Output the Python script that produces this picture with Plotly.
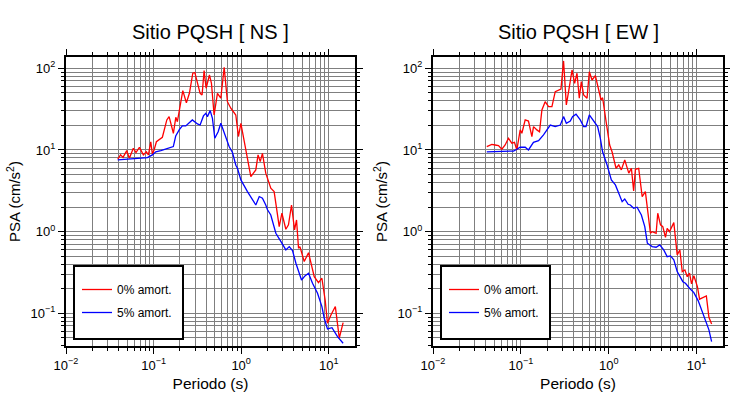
import plotly.graph_objects as go

# ---- data ----
ns_T0 = [0.039, 0.042, 0.0448, 0.0494, 0.0529, 0.0587, 0.063, 0.0689, 0.0764, 0.0827,
         0.0873, 0.0929, 0.0969, 0.1014, 0.1077, 0.1156, 0.126, 0.1416, 0.1504, 0.1683,
         0.1794, 0.187, 0.199, 0.2157, 0.237, 0.2565, 0.2805, 0.296, 0.34, 0.358,
         0.3776, 0.398, 0.4345, 0.458, 0.491, 0.536, 0.586, 0.64, 0.697, 0.762,
         0.869, 0.931, 0.993, 1.082, 1.18, 1.29, 1.47, 1.56, 1.65, 1.75,
         1.91, 2.18, 2.38, 2.72, 2.92, 3.24, 3.47, 3.76, 4.07, 4.29,
         4.52, 4.69, 5.25, 5.88, 6.83, 7.64, 8.36, 9.12, 9.68, 10.6,
         11.9, 13.2, 14.6]
ns_A0 = [7.7, 8.7, 8.1, 9.8, 7.9, 10.5, 9.3, 10.8, 8.7, 9.5,
         8.7, 12.6, 8.9, 10.0, 12.6, 13.5, 14.3, 23.3, 25.6, 16.0,
         25.1, 22.2, 32.4, 53.2, 37.9, 49.4, 86.9, 88.4, 49.4, 47.1,
         93.5, 56.9, 82.8, 65.5, 26.8, 49.4, 43.0, 103.0, 39.0, 32.4,
         26.8, 14.6, 21.2, 12.6, 8.3, 4.7, 5.7, 8.7, 7.2, 9.1,
         5.2, 3.4, 3.09, 1.15, 1.68, 1.07, 1.21, 2.12, 1.05, 1.39,
         0.627, 0.655, 0.43, 0.553, 0.281, 0.238, 0.269, 0.143, 0.0757, 0.0955,
         0.121, 0.0496, 0.0769]

ns_T5 = [0.039, 0.0598, 0.085, 0.0969, 0.106, 0.121, 0.144, 0.168, 0.179, 0.196,
         0.213, 0.233, 0.277, 0.317, 0.34, 0.371, 0.395, 0.412, 0.443, 0.47,
         0.5, 0.546, 0.586, 0.668, 0.729, 0.796, 0.87, 0.908, 0.993, 1.18,
         1.47, 1.61, 1.75, 1.91, 2.0, 2.18, 2.49, 2.85, 3.24, 3.54,
         3.86, 4.22, 4.89, 5.35, 5.88, 6.53, 7.45, 8.36, 8.89, 9.68,
         10.9, 12.6, 14.6]
ns_A5 = [7.55, 7.76, 8.05, 8.7, 9.5, 9.8, 10.5, 11.0, 14.8, 17.6,
         19.7, 19.7, 23.3, 20.8, 20.2, 26.1, 28.1, 25.6, 30.3, 24.4,
         13.9, 16.7, 21.2, 14.3, 11.0, 9.3, 6.5, 5.97, 4.3, 3.09,
         2.12, 2.69, 2.57, 2.12, 1.85, 1.6, 0.955, 0.755, 0.597, 0.655,
         0.585, 0.41, 0.256, 0.287, 0.31, 0.233, 0.176, 0.121, 0.087, 0.0644,
         0.0668, 0.0519, 0.043]

ew_T0 = [0.0409, 0.0467, 0.0509, 0.0556, 0.0607, 0.0662, 0.0722, 0.0789, 0.0845, 0.09,
         0.0982, 0.1026, 0.112, 0.122, 0.1334, 0.1393, 0.152, 0.163, 0.1734, 0.189,
         0.2064, 0.2256, 0.246, 0.2685, 0.2858, 0.306, 0.329, 0.349, 0.382, 0.409,
         0.435, 0.462, 0.487, 0.518, 0.566, 0.601, 0.645, 0.704, 0.767, 0.817,
         0.851, 0.897, 0.957, 1.024, 1.09, 1.21, 1.3, 1.39, 1.52, 1.69,
         1.81, 1.92, 2.01, 2.19, 2.4, 2.61, 2.98, 3.12, 3.46, 3.61,
         3.88, 4.12, 4.42, 4.62, 4.91, 5.5, 6.01, 6.44, 6.86, 7.35,
         7.82, 8.3, 8.75, 9.3, 10.2, 10.8, 12.9, 13.8, 14.8]
ew_A0 = [11.0, 11.7, 11.5, 11.3, 10.2, 11.5, 13.9, 12.1, 12.4, 10.0,
         17.6, 16.0, 23.3, 22.6, 14.6, 19.3, 17.6, 16.7, 30.9, 39.0,
         33.9, 33.9, 51.8, 54.2, 55.8, 123.0, 35.6, 51.8, 95.3, 65.5,
         86.9, 43.0, 68.5, 47.1, 43.0, 90.8, 71.9, 81.2, 56.9, 40.9,
         43.6, 28.1, 18.5, 11.5, 9.5, 5.97, 6.55, 5.7, 7.55, 5.2,
         5.97, 3.15, 5.8, 5.97, 2.68, 3.09, 0.955, 1.0, 0.955, 1.68,
         1.21, 1.15, 0.853, 1.1, 1.0, 1.29, 0.519, 0.597, 0.324, 0.34,
         0.281, 0.31, 0.229, 0.289, 0.212, 0.149, 0.163, 0.0895, 0.0742]

ew_T5 = [0.0409, 0.058, 0.0824, 0.09, 0.098, 0.112, 0.122, 0.139, 0.159, 0.181,
         0.216, 0.246, 0.281, 0.306, 0.329, 0.365, 0.387, 0.424, 0.474, 0.518,
         0.551, 0.601, 0.673, 0.747, 0.802, 0.851, 0.957, 1.07, 1.19, 1.3,
         1.42, 1.52, 1.66, 1.76, 1.92, 2.1, 2.35, 2.57, 2.75, 3.12,
         3.46, 3.8, 4.22, 4.62, 5.04, 5.5, 6.01, 6.97, 7.46, 8.3,
         9.3, 10.4, 11.4, 12.6, 13.8, 14.8]
ew_A5 = [9.5, 9.7, 9.7, 10.2, 10.8, 10.8, 10.0, 12.4, 13.0, 15.3,
         20.2, 19.3, 20.2, 25.6, 21.2, 22.6, 25.6, 27.4, 23.3, 19.3,
         19.3, 26.8, 22.2, 19.3, 13.9, 9.5, 6.55, 4.3, 3.73, 2.95,
         2.33, 2.51, 2.16, 2.12, 1.93, 1.99, 1.6, 1.15, 0.721, 0.655,
         0.644, 0.687, 0.597, 0.494, 0.505, 0.451, 0.324, 0.244, 0.233, 0.203,
         0.179, 0.143, 0.11, 0.0848, 0.0627, 0.0451]

titles = ["Sitio PQSH [ NS ]", "Sitio PQSH [ EW ]"]
series_names = ["0% amort.", "5% amort."]
x_major = [0.01, 0.1, 1, 10]
x_major_text = ["10<sup>\u22122</sup>", "10<sup>\u22121</sup>", "10<sup>0</sup>", "10<sup>1</sup>"]
y_major = [0.1, 1, 10, 100]
y_major_text = ["10<sup>\u22121</sup>", "10<sup>0</sup>", "10<sup>1</sup>", "10<sup>2</sup>"]

x_minor = [m * d for d in [0.01, 0.1, 1, 10] for m in range(2, 10) if m * d <= 20]
y_minor = [m * d for d in [0.01, 0.1, 1, 10] for m in range(2, 10) if m * d >= 0.04]

RED = "#ff0000"
BLUE = "#0000ff"
GRID = "#7f7f7f"
FONT = "Liberation Sans, Arial, sans-serif"

fig = go.Figure()

panels = [(ns_T0, ns_A0, ns_T5, ns_A5), (ew_T0, ew_A0, ew_T5, ew_A5)]
for i, (t0, a0, t5, a5) in enumerate(panels):
    xa = "x" if i == 0 else "x2"
    ya = "y" if i == 0 else "y2"
    lg = "legend" if i == 0 else "legend2"
    fig.add_trace(go.Scatter(x=t0, y=a0, mode="lines", name=series_names[0],
                             line=dict(color=RED, width=1.3), xaxis=xa, yaxis=ya,
                             legend=lg, legendgroup=f"a{i}"))
    fig.add_trace(go.Scatter(x=t5, y=a5, mode="lines", name=series_names[1],
                             line=dict(color=BLUE, width=1.3), xaxis=xa, yaxis=ya,
                             legend=lg, legendgroup=f"b{i}"))

x_domains = [[66 / 730, 355 / 730], [433 / 730, 723 / 730]]
y_domain = [1 - 346 / 400, 1 - 57 / 400]

common_x = dict(type="log", range=[-2, 1.3], tickvals=x_major, ticktext=x_major_text,
                ticks="outside", ticklen=6, tickwidth=1, tickcolor="black",
                showgrid=True, gridcolor=GRID, gridwidth=1, automargin=False,
                showline=True, linewidth=2, linecolor="black", mirror="ticks",
                tickfont=dict(family=FONT, size=13, color="black"),
                title=dict(text="Periodo (s)", font=dict(family=FONT, size=15.5, color="black"), standoff=7),
                minor=dict(tickvals=x_minor, ticks="outside", ticklen=3, tickcolor="black",
                           showgrid=True, gridcolor=GRID, gridwidth=1),
                zeroline=False, fixedrange=True)
common_y = dict(type="log", range=[-1.4, 2.138], tickvals=y_major, ticktext=y_major_text,
                ticks="outside", ticklen=6, tickwidth=1, tickcolor="black",
                showgrid=True, gridcolor=GRID, gridwidth=1, automargin=False,
                showline=True, linewidth=2, linecolor="black", mirror="ticks",
                tickfont=dict(family=FONT, size=13, color="black"),
                title=dict(text="PSA (cm/s<sup>2</sup>)", font=dict(family=FONT, size=15, color="black"), standoff=6),
                minor=dict(tickvals=y_minor, ticks="outside", ticklen=3, tickcolor="black",
                           showgrid=True, gridcolor=GRID, gridwidth=1),
                zeroline=False, fixedrange=True)

legend_style = dict(bgcolor="rgba(0,0,0,0)", borderwidth=0,
                    font=dict(family=FONT, size=12, color="black"),
                    xanchor="left", yanchor="top", tracegroupgap=4, itemwidth=30,
                    traceorder="grouped")

# legend frames (white boxes with black border) behind the legend entries
legend_boxes = [(74, 183, 266, 339), (441, 550, 266, 339)]
shapes = [dict(type="rect", xref="paper", yref="paper",
               x0=bx0 / 730, x1=bx1 / 730, y0=1 - by1 / 400, y1=1 - by0 / 400,
               fillcolor="white", line=dict(color="black", width=2), layer="above")
          for (bx0, bx1, by0, by1) in legend_boxes]

fig.update_layout(
    width=730, height=400, autosize=False,
    margin=dict(l=0, r=0, t=0, b=0, autoexpand=False),
    paper_bgcolor="white", plot_bgcolor="white",
    font=dict(family=FONT, color="black"),
    xaxis=dict(common_x, domain=x_domains[0], anchor="y"),
    yaxis=dict(common_y, domain=y_domain, anchor="x"),
    xaxis2=dict(common_x, domain=x_domains[1], anchor="y2"),
    yaxis2=dict(common_y, domain=y_domain, anchor="x2"),
    legend=dict(legend_style, x=77 / 730, y=1 - 275 / 400),
    legend2=dict(legend_style, x=444 / 730, y=1 - 275 / 400),
    shapes=shapes,
    annotations=[
        dict(text=titles[0], x=(x_domains[0][0] + x_domains[0][1]) / 2, y=1 - 32 / 400,
             xref="paper", yref="paper", xanchor="center", yanchor="middle", showarrow=False,
             font=dict(family=FONT, size=20, color="black")),
        dict(text=titles[1], x=(x_domains[1][0] + x_domains[1][1]) / 2, y=1 - 32 / 400,
             xref="paper", yref="paper", xanchor="center", yanchor="middle", showarrow=False,
             font=dict(family=FONT, size=20, color="black")),
    ],
)

fig.write_html("out.html", config={"displayModeBar": False},
               post_script="document.body.style.margin='0';")
